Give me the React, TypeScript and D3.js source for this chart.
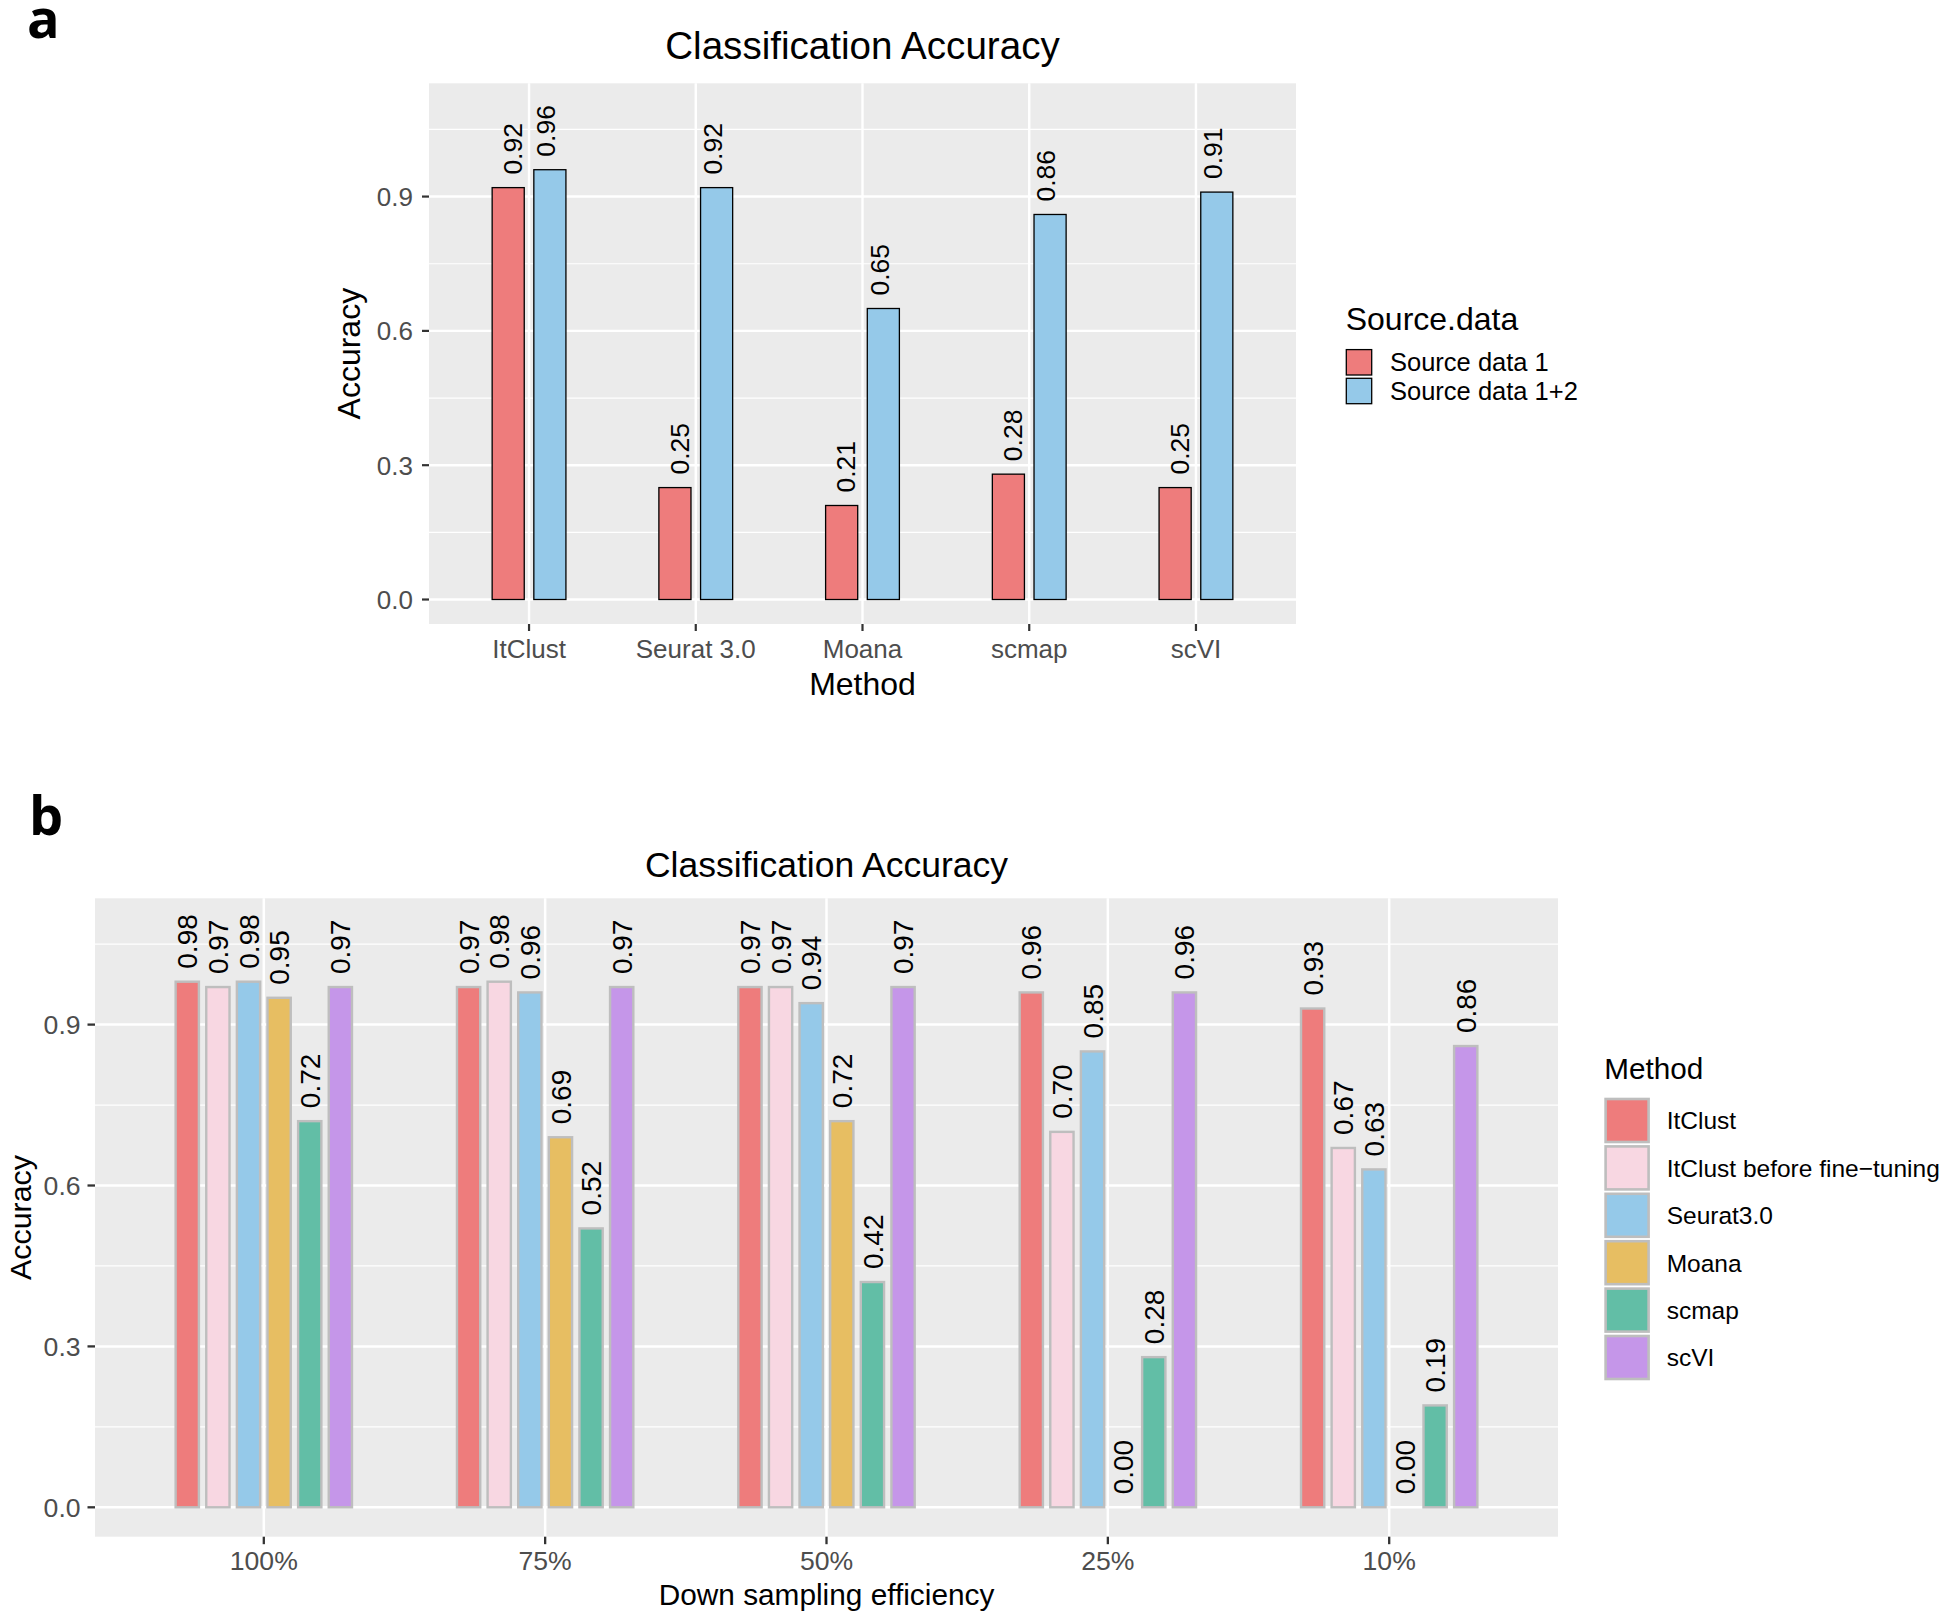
import React from "react";
import * as d3 from "d3";

// ---------- Panel a data ----------
const methodsA = ["ItClust", "Seurat 3.0", "Moana", "scmap", "scVI"];
const sourceSeries = ["Source data 1", "Source data 1+2"];
const source1 = [0.92, 0.25, 0.21, 0.28, 0.25];
const source12 = [0.96, 0.92, 0.65, 0.86, 0.91];
const yTicksA = [0, 0.3, 0.6, 0.9];
const yMinorA = [0.15, 0.45, 0.75, 1.05];
const colorsA = ["#EE7C7C", "#95C9E9"];

// ---------- Panel b data ----------
const samplingLevels = ["100%", "75%", "50%", "25%", "10%"];
const methodsB = ["ItClust", "ItClust before fine\u2212tuning", "Seurat3.0", "Moana", "scmap", "scVI"];
const itclustB = [0.98, 0.97, 0.97, 0.96, 0.93];
const itclustBeforeB = [0.97, 0.98, 0.97, 0.70, 0.67];
const seuratB = [0.98, 0.96, 0.94, 0.85, 0.63];
const moanaB = [0.95, 0.69, 0.72, 0.0, 0.0];
const scmapB = [0.72, 0.52, 0.42, 0.28, 0.19];
const scviB = [0.97, 0.97, 0.97, 0.96, 0.86];
const colorsB = ["#EE7C7C", "#F8D7E2", "#95C9E9", "#E7BE62", "#62BEA6", "#C596E9"];
const yTicksB = [0, 0.3, 0.6, 0.9];
const yMinorB = [0.15, 0.45, 0.75, 1.05];

const FONT = "'Liberation Sans', Arial, Helvetica, sans-serif";
const PANEL_BG = "#EBEBEB";
const TICK_COL = "#4D4D4D";

function PanelA() {
  const left = 429, right = 1296, top = 83.3, bottom = 624;
  const x = d3.scaleBand<string>().domain(methodsA).range([left, right]).paddingInner(0).paddingOuter(0.1);
  const y = d3.scaleLinear().domain([-0.0547, 1.153]).range([bottom, top]);
  const step = x.step();
  const sub = d3.scaleBand<string>().domain(sourceSeries).range([-0.25 * step, 0.25 * step]);
  const subLab = d3.scaleBand<string>().domain(sourceSeries).range([-0.2 * step, 0.2 * step]);
  const barW = sub.bandwidth() * 0.77;
  const series = [source1, source12];
  const labFs = 26.5;
  const cx = (c: string) => (x(c) as number) + x.bandwidth() / 2;
  return (
    <g>
      <text x={27} y={38} fontFamily="'Open Sans', sans-serif" fontWeight={700} fontSize={54}>a</text>
      <text x={(left + right) / 2} y={59.3} textAnchor="middle" fontFamily={FONT} fontSize={38.6}>Classification Accuracy</text>
      <rect x={left} y={top} width={right - left} height={bottom - top} fill={PANEL_BG} />
      {yMinorA.map((v) => (
        <line key={"mn" + v} x1={left} x2={right} y1={y(v)} y2={y(v)} stroke="#fff" strokeWidth={1.2} />
      ))}
      {yTicksA.map((v) => (
        <line key={"mj" + v} x1={left} x2={right} y1={y(v)} y2={y(v)} stroke="#fff" strokeWidth={2.4} />
      ))}
      {methodsA.map((m) => (
        <line key={"vx" + m} x1={cx(m)} x2={cx(m)} y1={top} y2={bottom} stroke="#fff" strokeWidth={2.4} />
      ))}
      {series.map((vals, si) =>
        vals.map((v, i) => {
          const c = cx(methodsA[i]) + (sub(sourceSeries[si]) as number) + sub.bandwidth() / 2;
          return (
            <rect key={`b${si}-${i}`} x={c - barW / 2} y={y(v)} width={barW} height={y(0) - y(v)}
              fill={colorsA[si]} stroke="#000" strokeWidth={1.3} />
          );
        })
      )}
      {series.map((vals, si) =>
        vals.map((v, i) => {
          const c = cx(methodsA[i]) + (subLab(sourceSeries[si]) as number) + subLab.bandwidth() / 2;
          const yy = y(v) - 13;
          return (
            <text key={`l${si}-${i}`} transform={`translate(${c},${yy}) rotate(-90)`} x={0} y={0.36 * labFs}
              fontFamily={FONT} fontSize={labFs} fill="#000">{v.toFixed(2)}</text>
          );
        })
      )}
      {yTicksA.map((v) => (
        <g key={"yt" + v}>
          <line x1={left - 7} x2={left} y1={y(v)} y2={y(v)} stroke="#333" strokeWidth={2.2} />
          <text x={413} y={y(v) + 0.36 * 26} textAnchor="end" fontFamily={FONT} fontSize={26} fill={TICK_COL}>{v.toFixed(1)}</text>
        </g>
      ))}
      {methodsA.map((m) => (
        <g key={"xt" + m}>
          <line x1={cx(m)} x2={cx(m)} y1={bottom} y2={bottom + 7} stroke="#333" strokeWidth={2.2} />
          <text x={cx(m)} y={658} textAnchor="middle" fontFamily={FONT} fontSize={26} fill={TICK_COL}>{m}</text>
        </g>
      ))}
      <text x={(left + right) / 2} y={695} textAnchor="middle" fontFamily={FONT} fontSize={32}>Method</text>
      <text transform={`translate(360,${(top + bottom) / 2}) rotate(-90)`} textAnchor="middle" fontFamily={FONT} fontSize={32}>Accuracy</text>
      {/* legend */}
      <text x={1345.7} y={329.5} fontFamily={FONT} fontSize={32}>Source.data</text>
      {sourceSeries.map((s, i) => {
        const ky = 349 + i * 28.7;
        return (
          <g key={"lg" + s}>
            <rect x={1346.3} y={ky + 0.6} width={25.4} height={25.4} fill={colorsA[i]} stroke="#000" strokeWidth={1.3} />
            <text x={1390} y={ky + 13.3 + 0.36 * 25.5} fontFamily={FONT} fontSize={25.5}>{s}</text>
          </g>
        );
      })}
    </g>
  );
}

function PanelB() {
  const left = 95, right = 1558, top = 898.3, bottom = 1536.7;
  const x = d3.scaleBand<string>().domain(samplingLevels).range([left, right]).paddingInner(0).paddingOuter(0.1);
  const y = d3.scaleLinear().domain([-0.0548, 1.1355]).range([bottom, top]);
  const step = x.step();
  const sub = d3.scaleBand<string>().domain(methodsB).range([-0.3265 * step, 0.3265 * step]);
  const barW = sub.bandwidth() * 0.76;
  const series = [itclustB, itclustBeforeB, seuratB, moanaB, scmapB, scviB];
  const labFs = 28;
  const cx = (c: string) => (x(c) as number) + x.bandwidth() / 2;
  return (
    <g>
      <text x={29} y={835} fontFamily="'Open Sans', sans-serif" fontWeight={700} fontSize={54}>b</text>
      <text x={(left + right) / 2} y={876.7} textAnchor="middle" fontFamily={FONT} fontSize={35.5}>Classification Accuracy</text>
      <rect x={left} y={top} width={right - left} height={bottom - top} fill={PANEL_BG} />
      {yMinorB.map((v) => (
        <line key={"mn" + v} x1={left} x2={right} y1={y(v)} y2={y(v)} stroke="#fff" strokeWidth={1.3} />
      ))}
      {yTicksB.map((v) => (
        <line key={"mj" + v} x1={left} x2={right} y1={y(v)} y2={y(v)} stroke="#fff" strokeWidth={2.5} />
      ))}
      {samplingLevels.map((m) => (
        <line key={"vx" + m} x1={cx(m)} x2={cx(m)} y1={top} y2={bottom} stroke="#fff" strokeWidth={2.5} />
      ))}
      {series.map((vals, si) =>
        vals.map((v, i) => {
          const c = cx(samplingLevels[i]) + (sub(methodsB[si]) as number) + sub.bandwidth() / 2;
          return (
            <rect key={`b${si}-${i}`} x={c - barW / 2} y={y(v)} width={barW} height={y(0) - y(v)}
              fill={colorsB[si]} stroke="#BEBEBE" strokeWidth={2.4} />
          );
        })
      )}
      {series.map((vals, si) =>
        vals.map((v, i) => {
          const c = cx(samplingLevels[i]) + (sub(methodsB[si]) as number) + sub.bandwidth() / 2;
          const yy = y(v) - 13;
          return (
            <text key={`l${si}-${i}`} transform={`translate(${c},${yy}) rotate(-90)`} x={0} y={0.36 * labFs}
              fontFamily={FONT} fontSize={labFs} fill="#000">{v.toFixed(2)}</text>
          );
        })
      )}
      {yTicksB.map((v) => (
        <g key={"yt" + v}>
          <line x1={left - 7.5} x2={left} y1={y(v)} y2={y(v)} stroke="#333" strokeWidth={2.3} />
          <text x={80.6} y={y(v) + 0.36 * 26.6} textAnchor="end" fontFamily={FONT} fontSize={26.6} fill={TICK_COL}>{v.toFixed(1)}</text>
        </g>
      ))}
      {samplingLevels.map((m) => (
        <g key={"xt" + m}>
          <line x1={cx(m)} x2={cx(m)} y1={bottom} y2={bottom + 7.5} stroke="#333" strokeWidth={2.3} />
          <text x={cx(m)} y={1570} textAnchor="middle" fontFamily={FONT} fontSize={26.6} fill={TICK_COL}>{m}</text>
        </g>
      ))}
      <text x={(left + right) / 2} y={1605} textAnchor="middle" fontFamily={FONT} fontSize={29.8}>Down sampling efficiency</text>
      <text transform={`translate(31,${(top + bottom) / 2}) rotate(-90)`} textAnchor="middle" fontFamily={FONT} fontSize={30.4}>Accuracy</text>
      {/* legend */}
      <text x={1604.3} y={1079.3} fontFamily={FONT} fontSize={29.7}>Method</text>
      {methodsB.map((s, i) => {
        const ky = 1097.7 + i * 47.4;
        return (
          <g key={"lg" + s}>
            <rect x={1605.6} y={ky + 1.3} width={43} height={43} fill={colorsB[i]} stroke="#BEBEBE" strokeWidth={2.6} />
            <text x={1666.7} y={ky + 22.8 + 0.36 * 24.5} fontFamily={FONT} fontSize={24.5}>{s}</text>
          </g>
        );
      })}
    </g>
  );
}

export default function App() {
  return (
    <svg width={1950} height={1621} viewBox="0 0 1950 1621"
      style={{ position: "absolute", left: 0, top: 0, background: "#fff" }}>
      <rect x={0} y={0} width={1950} height={1621} fill="#fff" />
      <PanelA />
      <PanelB />
    </svg>
  );
}
